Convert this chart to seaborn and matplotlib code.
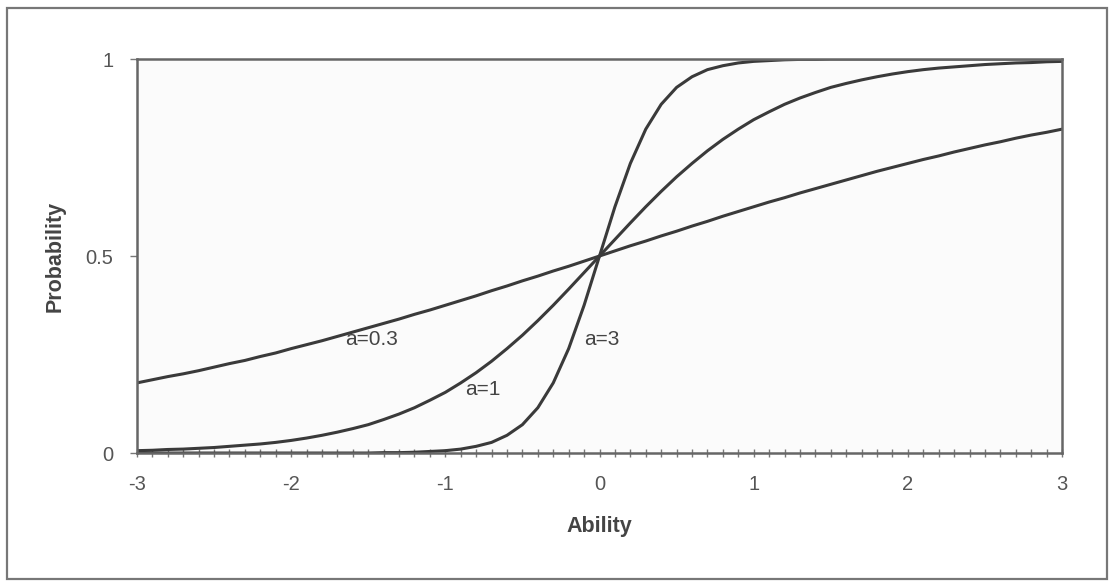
import matplotlib
matplotlib.use("Agg")
import matplotlib.pyplot as plt
import matplotlib.patches as mpatches
from matplotlib.ticker import MultipleLocator
import numpy as np
import pandas as pd
import seaborn as sns

# ability grid, -3 .. 3 in steps of 0.1
ability = np.round(np.linspace(-3, 3, 61), 1)

# probabilities
p_a03 = [0.178, 0.186, 0.194, 0.201, 0.209, 0.218, 0.227, 0.235, 0.245, 0.254,
         0.265, 0.275, 0.285, 0.296, 0.307, 0.318, 0.329, 0.340, 0.352, 0.363,
         0.375, 0.387, 0.399, 0.412, 0.424, 0.437, 0.449, 0.462, 0.474, 0.487,
         0.500,
         0.513, 0.526, 0.538, 0.551, 0.563, 0.576, 0.588, 0.601, 0.613, 0.625,
         0.637, 0.648, 0.660, 0.671, 0.682, 0.693, 0.704, 0.715, 0.725, 0.735,
         0.745, 0.754, 0.764, 0.773, 0.782, 0.790, 0.799, 0.807, 0.814, 0.822]
p_a1 = [0.006, 0.007, 0.009, 0.010, 0.012, 0.014, 0.017, 0.020, 0.023, 0.027,
        0.032, 0.038, 0.045, 0.053, 0.062, 0.072, 0.085, 0.099, 0.115, 0.134,
        0.154, 0.178, 0.204, 0.233, 0.265, 0.299, 0.336, 0.375, 0.416, 0.458,
        0.500,
        0.542, 0.584, 0.625, 0.664, 0.701, 0.735, 0.767, 0.796, 0.822, 0.846,
        0.866, 0.885, 0.901, 0.915, 0.928, 0.938, 0.947, 0.955, 0.962, 0.968,
        0.973, 0.977, 0.980, 0.983, 0.986, 0.988, 0.990, 0.991, 0.993, 0.994]
p_a3 = [0.000, 0.000, 0.000, 0.000, 0.000, 0.000, 0.000, 0.000, 0.000, 0.000,
        0.000, 0.000, 0.000, 0.000, 0.000, 0.000, 0.001, 0.001, 0.002, 0.004,
        0.006, 0.010, 0.017, 0.027, 0.045, 0.072, 0.115, 0.178, 0.265, 0.375,
        0.500,
        0.625, 0.735, 0.822, 0.885, 0.928, 0.955, 0.973, 0.983, 0.990, 0.994,
        0.996, 0.998, 0.999, 0.999, 1.000, 1.000, 1.000, 1.000, 1.000, 1.000,
        1.000, 1.000, 1.000, 1.000, 1.000, 1.000, 1.000, 1.000, 1.000, 1.000]

curve_names = ["a=0.3", "a=1", "a=3"]
label_pos = {"a=0.3": (-1.48, 0.287), "a=1": (-0.756, 0.16), "a=3": (0.015, 0.287)}

df = pd.DataFrame({
    "Ability": np.tile(ability, 3),
    "Probability": np.concatenate([p_a03, p_a1, p_a3]),
    "curve": np.repeat(curve_names, len(ability)),
})

sns.set_theme(style="white")
plt.rcParams["font.family"] = ["Liberation Sans", "DejaVu Sans"]
plt.rcParams["axes.unicode_minus"] = False

fig = plt.figure(figsize=(11.1, 5.82), dpi=100)
ax = fig.add_axes([0.1234, 0.2216, 0.8334, 0.677])
ax.set_facecolor("#fbfbfb")

sns.lineplot(data=df, x="Ability", y="Probability", hue="curve",
             palette=["#3a3a3a"] * 3, linewidth=2.2, legend=False, ax=ax)

for name, (lx, ly) in label_pos.items():
    ax.text(lx, ly, name, ha="center", va="center", fontsize=15, color="#444444")

ax.set_xlim(-3, 3)
ax.set_ylim(0, 1)
ax.set_yticks([0, 0.5, 1])
ax.set_yticklabels(["0", "0.5", "1"])
ax.xaxis.set_major_locator(MultipleLocator(1))
ax.xaxis.set_minor_locator(MultipleLocator(0.1))
ax.tick_params(axis="x", which="both", direction="inout", length=6, width=1,
               color="#777777", bottom=True, labelsize=14.5, labelcolor="#555555", pad=13)
ax.tick_params(axis="y", which="major", direction="out", length=5, width=1,
               color="#777777", left=True, labelsize=14.5, labelcolor="#555555", pad=12)

for s in ax.spines.values():
    s.set_color("#666666")
    s.set_linewidth(1.8)

ax.set_xlabel("Ability", fontsize=15.5, fontweight="bold", color="#444444", labelpad=16)
ax.set_ylabel("Probability", fontsize=15.5, fontweight="bold", color="#444444", labelpad=14)

# outer chart frame
frame = mpatches.Rectangle((7 / 1110, 3 / 582), 1100 / 1110, 571 / 582,
                           transform=fig.transFigure, fill=False,
                           edgecolor="#777777", linewidth=1.6)
fig.patches.append(frame)

fig.savefig("out.png", dpi=100)
